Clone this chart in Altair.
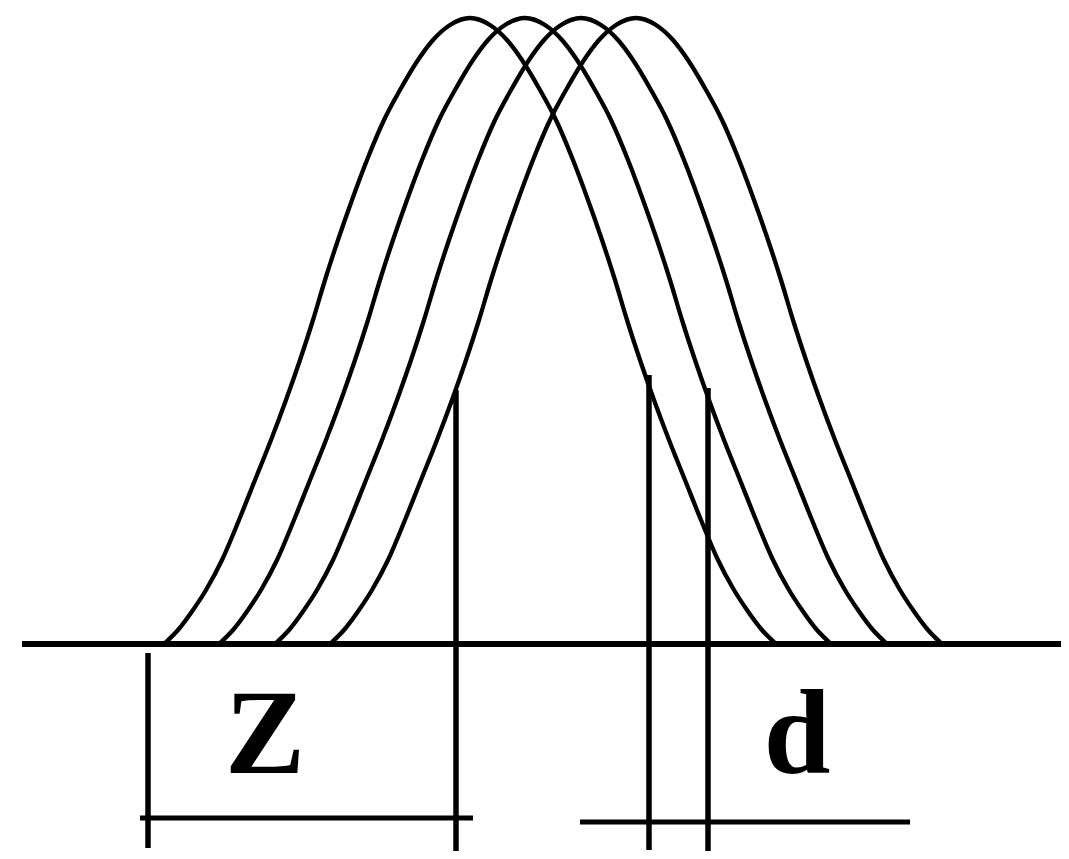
import altair as alt
import pandas as pd

# Half-profile of one bell curve:
# horizontal offset from the curve's centre and vertical level (image units, growing downward)
profile_offset = [-305, -292, -277, -264, -248, -231, -215, -199, -184, -170, -157, -145, -132, -118, -103, -86, -70, -52, -37, -20, 0]
profile_level = [643, 630, 610, 590, 560, 520, 480, 440, 400, 360, 320, 280, 240, 200, 160, 120, 90, 60, 40, 25, 18]

# Centres of the four shifted curves
curve_centres = [470, 525, 581, 636]
curve_names = ["c1", "c2", "c3", "c4"]

# Straight segments: baseline, four verticals, two dimension lines
seg_x1 = [22, 148, 456, 649, 708, 140, 580]
seg_y1 = [644, 653, 390, 375, 388, 818, 822]
seg_x2 = [1069, 148, 456, 649, 708, 473, 910]
seg_y2 = [644, 848, 856, 850, 852, 818, 822]
seg_width = [6, 5.5, 5.5, 5.5, 5.5, 5, 5]

# Labels
label_text = ["Z", "d"]
label_x = [265, 797]
label_y = [773, 773]

# Build curve table (left half, then mirrored right half)
rows = []
for name, c in zip(curve_names, curve_centres):
    order = 0
    for off, lev in zip(profile_offset, profile_level):
        rows.append({"curve": name, "x": c + off, "y": lev, "o": order})
        order += 1
    for off, lev in zip(reversed(profile_offset[:-1]), reversed(profile_level[:-1])):
        rows.append({"curve": name, "x": c - off, "y": lev, "o": order})
        order += 1
curves_df = pd.DataFrame(rows)

segs_df = pd.DataFrame({"x": seg_x1, "y": seg_y1, "x2": seg_x2, "y2": seg_y2, "w": seg_width})
labels_df = pd.DataFrame({"t": label_text, "x": label_x, "y": label_y})

# leave room for the page margin so nothing overflows the window
W, H = 1053, 843
xs = alt.Scale(domain=[8, 8 + W], nice=False, zero=False)
ys = alt.Scale(domain=[8, 8 + H], nice=False, zero=False, reverse=True)

curves = alt.Chart(curves_df).mark_line(
    color="black", strokeWidth=4.3, interpolate="monotone", strokeCap="round", strokeJoin="round"
).encode(
    x=alt.X("x:Q", scale=xs, axis=None),
    y=alt.Y("y:Q", scale=ys, axis=None),
    detail="curve:N",
    order="o:Q",
)

segs = alt.Chart(segs_df).mark_rule(color="black", strokeCap="butt").encode(
    x=alt.X("x:Q", scale=xs, axis=None),
    y=alt.Y("y:Q", scale=ys, axis=None),
    x2="x2:Q",
    y2="y2:Q",
    strokeWidth=alt.StrokeWidth("w:Q", scale=None, legend=None),
)

labels = alt.Chart(labels_df).mark_text(
    font="Liberation Serif", fontWeight="bold", fontSize=120, color="black",
    align="center", baseline="alphabetic"
).encode(
    x=alt.X("x:Q", scale=xs, axis=None),
    y=alt.Y("y:Q", scale=ys, axis=None),
    text="t:N",
)

chart = alt.layer(curves, segs, labels).properties(
    width=W, height=H, padding=0, autosize=alt.AutoSizeParams(type="none"), background="white"
).configure_view(strokeWidth=0)

chart.save("out.html", embed_options={"renderer": "svg", "actions": False})
